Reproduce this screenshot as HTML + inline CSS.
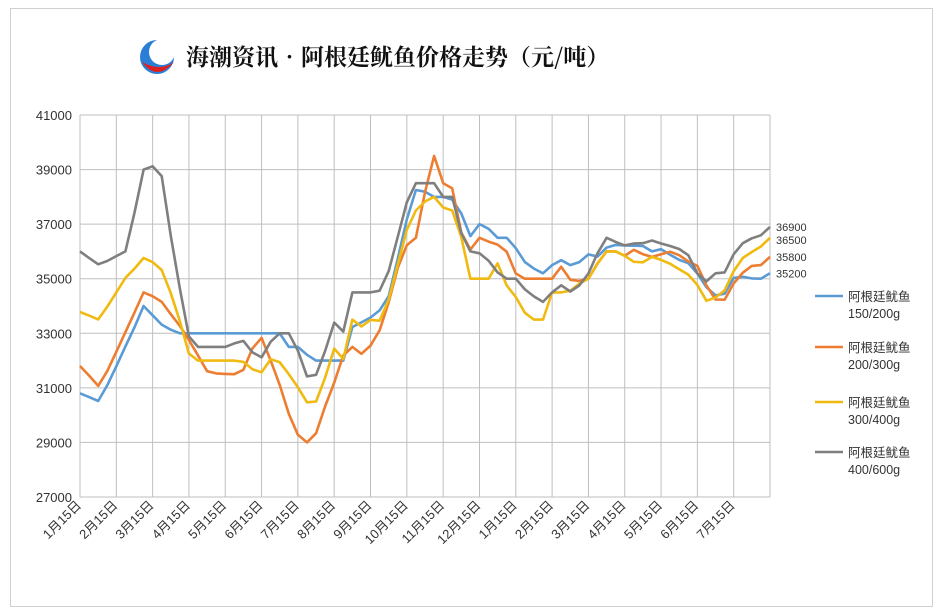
<!DOCTYPE html>
<html><head><meta charset="utf-8">
<style>
html,body{margin:0;padding:0;background:#fff;}
body{width:942px;height:614px;overflow:hidden;font-family:"Liberation Sans","Noto Sans CJK SC",sans-serif;}
#frame{position:absolute;left:10px;top:8px;width:921px;height:597px;border:1px solid #d0d0d0;}
</style></head>
<body>
<div id="frame"></div>
<svg id="chart" width="942" height="614" style="position:absolute;left:0;top:0">
  <g>
    <circle cx="157" cy="57" r="17" fill="#2a7fd4"/>
    <circle cx="162" cy="52" r="13" fill="#fff"/>
    <path d="M142 62 Q157 82 174 62 Q160 72 142 62Z" fill="#e02020"/>
  </g>
  <text x="186" y="65" font-size="23" font-weight="bold" fill="#111" font-family="'Noto Serif CJK SC','Noto Sans CJK SC',serif">海潮资讯•阿根廷鱿鱼价格走势（元/吨）</text>
  <g id="grid"></g><g id="lines"></g><g id="labels"></g><g id="legend"></g>
</svg>
<script>
const yTicks=[27000,29000,31000,33000,35000,37000,39000,41000];
const monthLabels=["1月15日","2月15日","3月15日","4月15日","5月15日","6月15日","7月15日","8月15日","9月15日","10月15日","11月15日","12月15日","1月15日","2月15日","3月15日","4月15日","5月15日","6月15日","7月15日"];
const seriesNames=["阿根廷鱿鱼150/200g","阿根廷鱿鱼200/300g","阿根廷鱿鱼300/400g","阿根廷鱿鱼400/600g"];
const s150=[30800,30660,30520,31090,31790,32520,33220,34000,33660,33320,33130,33000,33000,33000,33000,33000,33000,33000,33000,33000,33000,33000,33000,32500,32500,32210,32000,32000,32000,32000,33230,33400,33580,33840,34360,35740,37170,38250,38190,38000,38000,37900,37390,36560,37000,36830,36500,36500,36120,35610,35370,35200,35500,35680,35500,35610,35890,35810,36140,36240,36220,36210,36200,36000,36080,35880,35690,35570,35190,34690,34390,34450,35030,35070,35010,35000,35200];
const s200=[31800,31450,31070,31610,32320,33040,33760,34500,34360,34150,33700,33270,32750,32190,31610,31530,31510,31500,31660,32450,32830,32000,31110,30050,29280,29000,29340,30320,31190,32190,32500,32250,32550,33110,34140,35400,36230,36500,38170,39500,38500,38310,36690,36070,36500,36360,36250,35990,35190,35000,35000,35000,35000,35440,34960,34920,35000,35560,36000,36000,35840,36060,35900,35800,35900,35990,35860,35630,35470,34760,34240,34230,34830,35220,35470,35500,35800];
const s300=[33780,33650,33510,33970,34500,35030,35370,35760,35610,35320,34470,33440,32260,32000,32000,32000,32000,32000,31950,31680,31570,32050,31940,31500,31020,30470,30500,31370,32440,32060,33500,33250,33490,33460,34240,35520,36790,37500,37830,38000,37610,37500,36520,35000,35000,35000,35560,34750,34330,33750,33500,33500,34500,34500,34560,34820,35000,35550,36000,36000,35840,35620,35600,35800,35690,35550,35350,35150,34770,34190,34310,34570,35280,35760,35980,36180,36500];
const s400=[36000,35760,35530,35650,35830,36000,37420,39000,39120,38760,36570,34630,32890,32500,32500,32500,32500,32630,32720,32300,32120,32690,33000,33000,32360,31420,31480,32350,33390,33060,34500,34500,34500,34560,35280,36540,37800,38500,38500,38500,38000,38000,36670,36000,35930,35660,35230,35000,35000,34610,34350,34150,34500,34760,34530,34750,35190,35930,36500,36350,36220,36290,36300,36400,36290,36200,36090,35860,35190,34900,35200,35230,35900,36300,36480,36590,36900];
const colors=["#5B9BD5","#ED7D31","#F0BA10","#7F7F7F"];
const NS="http://www.w3.org/2000/svg";
const L=80,R=770,T=115,B=497,yMin=27000,yMax=41000;
const nPts=s150.length;
function xPos(i){return L+i*(R-L)/(nPts-1);}
function yPos(v){return B-(v-yMin)/(yMax-yMin)*(B-T);}
function mk(tag,attrs,parent){const e=document.createElementNS(NS,tag);for(const k in attrs)e.setAttribute(k,attrs[k]);parent.appendChild(e);return e;}
const grid=document.getElementById('grid'),lines=document.getElementById('lines'),labels=document.getElementById('labels'),legend=document.getElementById('legend');
yTicks.forEach(v=>{
  const ln=mk('line',{x1:L,x2:R,y1:yPos(v),y2:yPos(v),stroke:'#bfbfbf','stroke-width':1},grid);
  
  
  const t=mk('text',{x:72,y:yPos(v)+5,'text-anchor':'end','font-size':13,fill:'#333'},labels);
  t.textContent=v;
  
  
});
const step=(R-L)/monthLabels.length;
for(let i=0;i<=monthLabels.length;i++){
  const x=L+i*step;
  const ln=mk('line',{x1:x,x2:x,y1:T,y2:B,stroke:'#bfbfbf','stroke-width':1},grid);
  
  
}
monthLabels.forEach((m,i)=>{
  const x=L+i*step+2,y=506;
  const t=mk('text',{x:x,y:y,'text-anchor':'end','font-size':13,fill:'#333',transform:`rotate(-45 ${x} ${y})`},labels);
  t.textContent=m;
  
  
});
[s150,s200,s300,s400].forEach((s,k)=>{
  const d=s.map((v,i)=>(i?'L':'M')+xPos(i).toFixed(1)+' '+yPos(v).toFixed(1)).join(' ');
  const p=mk('path',{d:d,fill:'none',stroke:colors[k],'stroke-width':2.6,'stroke-linejoin':'round'},lines);
  
  
  const last=s[s.length-1];
  const lt=mk('text',{x:776,y:0,'font-size':11,fill:'#333'},labels);
  lt.textContent=last;
  
  
  lt.dataset.v=last;
  const ly=[296,347,402,452][k];
  const ll=mk('line',{x1:815,x2:843,y1:ly,y2:ly,stroke:colors[k],'stroke-width':2.6},legend);
  
  
  const t1=mk('text',{x:848,y:ly+5,'font-size':12.5,fill:'#333'},legend);
  t1.textContent=seriesNames[k].slice(0,5);
  
  
  const t2=mk('text',{x:848,y:ly+22,'font-size':12.5,fill:'#333'},legend);
  t2.textContent=seriesNames[k].slice(5);
  
  
});
// place end labels sorted, avoid overlap
const els=[...labels.querySelectorAll('text[data-v]')].sort((a,b)=>b.dataset.v-a.dataset.v);
let prev=-1e9;
els.forEach(e=>{let y=yPos(+e.dataset.v)+4;if(y<prev+13)y=prev+13;e.setAttribute('y',y);prev=y;});
</script>
</body></html>
